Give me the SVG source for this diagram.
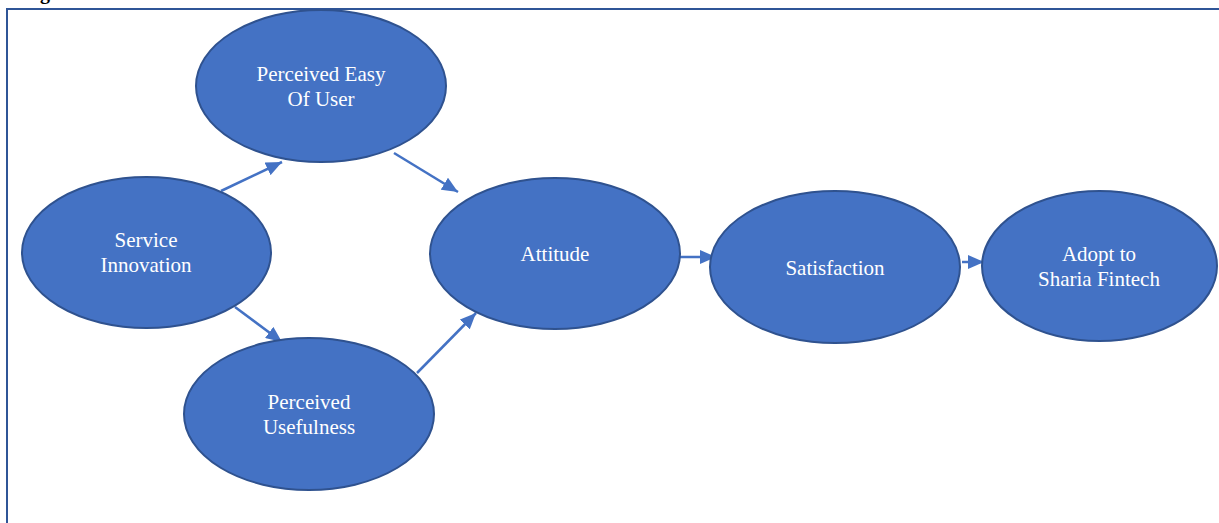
<svg xmlns="http://www.w3.org/2000/svg" width="1219" height="523" viewBox="0 0 1219 523">
<style>
.node ellipse{fill:#4472C4;stroke:#2F528F;stroke-width:2}
.node text{fill:#FFFFFF;font-family:"Liberation Serif","Times New Roman",serif;font-size:21px;text-anchor:middle}
.conn line{stroke:#4472C4;stroke-width:2.5;marker-end:url(#ah)}
</style>
<defs>
<marker id="ah" markerUnits="userSpaceOnUse" markerWidth="17" markerHeight="14" refX="16" refY="7" orient="auto">
<path d="M0,0 L16,7 L0,14 Z" fill="#4472C4"/>
</marker>
</defs>
<rect width="1219" height="523" fill="#FFFFFF"/>
<text x="40" y="-1" font-family="Liberation Serif,serif" font-weight="bold" font-size="20" fill="#000">g</text>
<path d="M7,523 V9 H1219" fill="none" stroke="#2F5597" stroke-width="2"/>
<g class="conn">
<line x1="221" y1="191" x2="282" y2="162"/>
<line x1="394" y1="153" x2="458" y2="192"/>
<line x1="235" y1="307" x2="282" y2="342"/>
<line x1="417" y1="373" x2="476" y2="313"/>
<line x1="680" y1="257" x2="716" y2="257"/>
<line x1="962" y1="262" x2="984" y2="262"/>
</g>
<g id="peou" class="node"><ellipse cx="321" cy="86" rx="125" ry="76"/><text x="321" y="81">Perceived Easy</text><text x="321" y="106">Of User</text></g>
<g id="si" class="node"><ellipse cx="146.5" cy="252.5" rx="124.5" ry="75.5"/><text x="146" y="247">Service</text><text x="146" y="272">Innovation</text></g>
<g id="pu" class="node"><ellipse cx="309" cy="414" rx="125" ry="76"/><text x="309" y="409">Perceived</text><text x="309" y="434">Usefulness</text></g>
<g id="att" class="node"><ellipse cx="555" cy="253.5" rx="125" ry="75.5"/><text x="555" y="261">Attitude</text></g>
<g id="sat" class="node"><ellipse cx="835" cy="267" rx="125" ry="76"/><text x="835" y="275">Satisfaction</text></g>
<g id="adopt" class="node"><ellipse cx="1099.5" cy="266" rx="117.5" ry="75"/><text x="1099" y="261">Adopt to</text><text x="1099" y="286">Sharia Fintech</text></g>
</svg>
